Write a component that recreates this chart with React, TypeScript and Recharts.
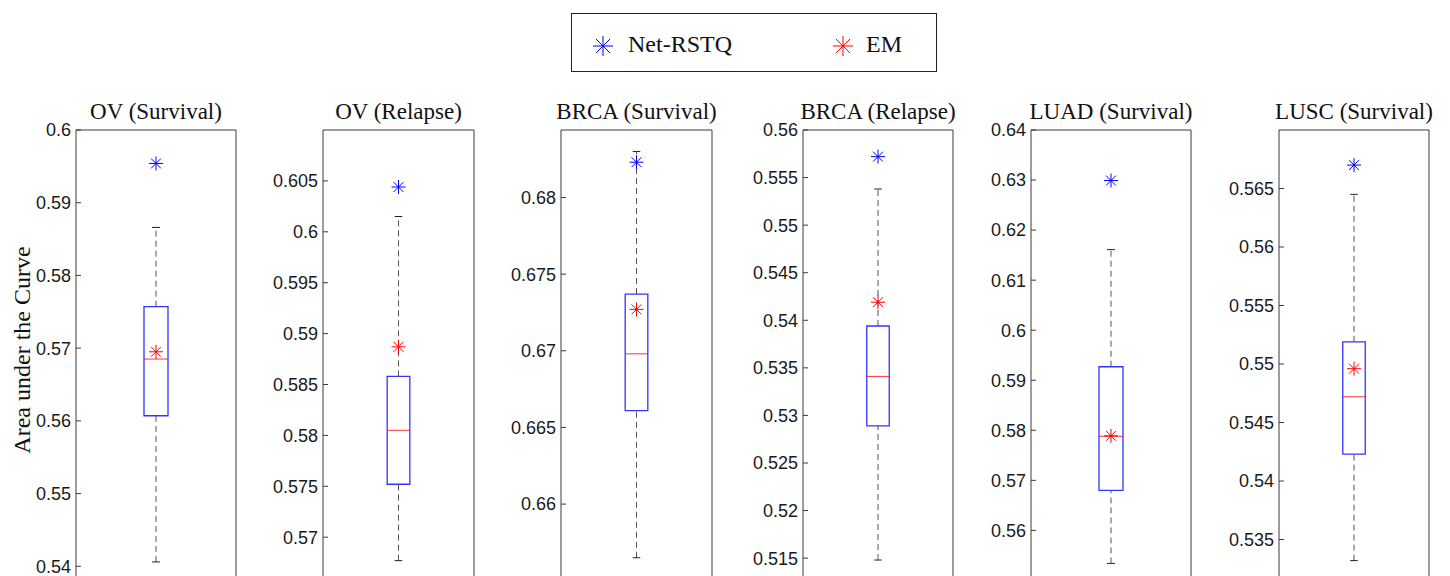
import { ComposedChart, XAxis, YAxis, ReferenceArea, ReferenceLine, Scatter } from "recharts";

const titles = ["OV (Survival)", "OV (Relapse)", "BRCA (Survival)", "BRCA (Relapse)", "LUAD (Survival)", "LUSC (Survival)"];

// box plot stats for each panel
const whiskerLow = [0.5406, 0.5677, 0.6565, 0.5148, 0.5534, 0.5332];
const boxLow = [0.5607, 0.5752, 0.6661, 0.5289, 0.568, 0.5423];
const medians = [0.5685, 0.5805, 0.6698, 0.5341, 0.5788, 0.5472];
const boxHigh = [0.5757, 0.5858, 0.6737, 0.5394, 0.5927, 0.5519];
const whiskerHigh = [0.5866, 0.6015, 0.683, 0.5538, 0.6161, 0.5645];

// single runs
const netRstq = [0.5954, 0.6044, 0.6823, 0.5572, 0.6299, 0.567];
const em = [0.5695, 0.5887, 0.6727, 0.5419, 0.5789, 0.5496];

const yMin = [0.53, 0.56, 0.6512, 0.5065, 0.5383, 0.5265];
const yMax = [0.6, 0.61, 0.6844, 0.56, 0.64, 0.57];
const yTicks = [
  [0.54, 0.55, 0.56, 0.57, 0.58, 0.59, 0.6],
  [0.57, 0.575, 0.58, 0.585, 0.59, 0.595, 0.6, 0.605],
  [0.66, 0.665, 0.67, 0.675, 0.68],
  [0.515, 0.52, 0.525, 0.53, 0.535, 0.54, 0.545, 0.55, 0.555, 0.56],
  [0.56, 0.57, 0.58, 0.59, 0.6, 0.61, 0.62, 0.63, 0.64],
  [0.535, 0.54, 0.545, 0.55, 0.555, 0.56, 0.565],
];

// layout
const PLOT_TOP = 130;
const PLOT_H = 509;
const PAD_TOP = 15;
const AXIS_W = 70;
const plotLeft = [76, 323, 561, 803, 1031, 1279];
const plotWidth = [160, 151, 151, 150, 160, 150];

const FRAME = "#3a3a3a";
const BLUE = "#0000ff";
const RED = "#ff0000";

function Star({ cx, cy, color, r }: { cx: number; cy: number; color: string; r: number }) {
  const d = r * 0.7071;
  return (
    <g stroke={color} strokeWidth={1}>
      <line x1={cx - r} y1={cy} x2={cx + r} y2={cy} />
      <line x1={cx} y1={cy - r} x2={cx} y2={cy + r} />
      <line x1={cx - d} y1={cy - d} x2={cx + d} y2={cy + d} />
      <line x1={cx - d} y1={cy + d} x2={cx + d} y2={cy - d} />
    </g>
  );
}

function Panel({ i }: { i: number }) {
  const w = plotWidth[i];
  const domain = [yMin[i], yMax[i]];
  return (
    <>
      <div
        style={{
          position: "absolute",
          left: plotLeft[i] - 20,
          width: w + 40,
          top: 100,
          textAlign: "center",
          fontFamily: "Liberation Serif",
          fontSize: 23,
          lineHeight: "23px",
          color: "#111",
          whiteSpace: "nowrap",
        }}
      >
        {titles[i]}
      </div>
      <div style={{ position: "absolute", left: plotLeft[i] - AXIS_W, top: PLOT_TOP - PAD_TOP }}>
        <ComposedChart
          width={AXIS_W + w + 1}
          height={PLOT_H + PAD_TOP}
          margin={{ top: PAD_TOP, right: 0, bottom: 0, left: 0 }}
        >
          <XAxis type="number" dataKey="x" domain={[0, 2]} hide allowDataOverflow />
          <YAxis
            type="number"
            domain={domain}
            ticks={yTicks[i]}
            interval={0}
            allowDataOverflow
            width={AXIS_W}
            tickSize={-5}
            tickMargin={10}
            axisLine={{ stroke: FRAME }}
            tickLine={{ stroke: FRAME }}
            tick={{ fill: "#1a1a1a", fontSize: 18, fontFamily: "Liberation Sans" }}
          />
          <YAxis
            yAxisId="r"
            orientation="right"
            type="number"
            domain={domain}
            ticks={yTicks[i]}
            interval={0}
            allowDataOverflow
            width={1}
            tickSize={-5}
            tick={false}
            axisLine={{ stroke: FRAME }}
            tickLine={{ stroke: FRAME }}
          />
          <ReferenceLine y={yMax[i]} stroke={FRAME} ifOverflow="visible" />
          <ReferenceLine
            segment={[{ x: 1, y: boxHigh[i] }, { x: 1, y: whiskerHigh[i] }]}
            stroke="#555"
            strokeDasharray="6 4"
          />
          <ReferenceLine
            segment={[{ x: 1, y: whiskerLow[i] }, { x: 1, y: boxLow[i] }]}
            stroke="#555"
            strokeDasharray="6 4"
          />
          <ReferenceLine segment={[{ x: 0.95, y: whiskerHigh[i] }, { x: 1.05, y: whiskerHigh[i] }]} stroke="#222" />
          <ReferenceLine segment={[{ x: 0.95, y: whiskerLow[i] }, { x: 1.05, y: whiskerLow[i] }]} stroke="#222" />
          <ReferenceArea
            x1={0.85}
            x2={1.15}
            y1={boxLow[i]}
            y2={boxHigh[i]}
            fill="none"
            fillOpacity={0}
            stroke={BLUE}
            strokeOpacity={0.8}
            strokeWidth={1.3}
          />
          <ReferenceLine segment={[{ x: 0.85, y: medians[i] }, { x: 1.15, y: medians[i] }]} stroke={RED} strokeOpacity={0.8} />
          <Scatter
            data={[{ x: 1, y: em[i] }]}
            dataKey="y"
            isAnimationActive={false}
            shape={(p: any) => <Star cx={p.cx} cy={p.cy} color={RED} r={7} />}
          />
          <Scatter
            data={[{ x: 1, y: netRstq[i] }]}
            dataKey="y"
            isAnimationActive={false}
            shape={(p: any) => <Star cx={p.cx} cy={p.cy} color={BLUE} r={7} />}
          />
        </ComposedChart>
      </div>
    </>
  );
}

function LegendStar({ left, color }: { left: number; color: string }) {
  return (
    <svg width={24} height={24} style={{ position: "absolute", left: left - 12, top: 20 }}>
      <Star cx={12} cy={12} r={10} color={color} />
    </svg>
  );
}

export default function App() {
  return (
    <div
      style={{
        position: "absolute",
        left: 0,
        top: 0,
        width: 1450,
        height: 576,
        overflow: "hidden",
        background: "#fff",
      }}
    >
      <div
        style={{
          position: "absolute",
          left: 571,
          top: 13,
          width: 366,
          height: 59,
          border: "1.5px solid #222",
          boxSizing: "border-box",
          fontFamily: "Liberation Serif",
          fontSize: 24,
          lineHeight: "24px",
          color: "#111",
        }}
      >
        <LegendStar left={31} color={BLUE} />
        <span style={{ position: "absolute", left: 56, top: 18 }}>Net-RSTQ</span>
        <LegendStar left={271} color={RED} />
        <span style={{ position: "absolute", left: 294, top: 18 }}>EM</span>
      </div>
      <div
        style={{
          position: "absolute",
          left: 22 - 150,
          top: 350 - 12,
          width: 300,
          height: 24,
          lineHeight: "24px",
          textAlign: "center",
          fontFamily: "Liberation Serif",
          fontSize: 24,
          color: "#111",
          transform: "rotate(-90deg)",
          whiteSpace: "nowrap",
        }}
      >
        Area under the Curve
      </div>
      {titles.map((_, i) => (
        <Panel key={i} i={i} />
      ))}
    </div>
  );
}
